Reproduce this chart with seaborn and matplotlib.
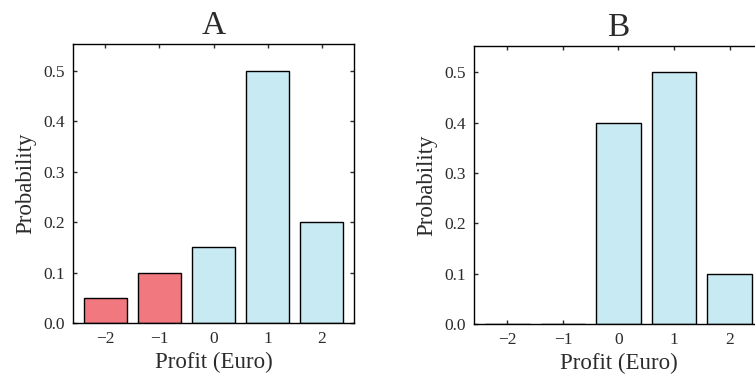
import matplotlib
matplotlib.use("Agg")
import matplotlib.pyplot as plt
import seaborn as sns
import pandas as pd

# Profit outcomes and their probabilities for the two lotteries
profit = [-2, -1, 0, 1, 2]
prob_a = [0.05, 0.10, 0.15, 0.50, 0.20]
prob_b = [0.00, 0.00, 0.40, 0.50, 0.10]
yticks = [0.0, 0.1, 0.2, 0.3, 0.4, 0.5]

loss_color = "#F27880"
gain_color = "#C8EAF2"
text_color = "#2b2b2b"

sns.set_theme(style="white")
plt.rcParams["font.family"] = ["Liberation Serif", "DejaVu Serif"]
plt.rcParams["text.color"] = text_color
plt.rcParams["axes.labelcolor"] = text_color
plt.rcParams["xtick.color"] = text_color
plt.rcParams["ytick.color"] = text_color

fig = plt.figure(figsize=(7.55, 3.79), dpi=100)
ax_a = fig.add_axes([0.0967, 0.1478, 0.3722, 0.7361])
ax_b = fig.add_axes([0.6278, 0.1451, 0.3828, 0.7343])


def draw_panel(ax, probs, title):
    df = pd.DataFrame({
        "profit": profit,
        "prob": probs,
        "kind": ["loss" if p < 0 else "gain" for p in profit],
    })
    sns.barplot(data=df, x="profit", y="prob", hue="kind",
                palette={"loss": loss_color, "gain": gain_color},
                native_scale=True, dodge=False, width=0.8,
                edgecolor="black", linewidth=1.0, saturation=1,
                legend=False, ax=ax)
    ax.set_xlim(-2.6, 2.6)
    ax.set_ylim(0, 0.553)
    ax.set_xticks(profit)
    ax.set_xticklabels([str(p).replace("-", "\u2212") for p in profit])
    ax.set_yticks(yticks)
    ax.set_yticklabels([f"{v:.1f}" for v in yticks])
    ax.tick_params(direction="in", length=3, width=1, top=True, right=True,
                   bottom=True, left=True, labelsize=12.5, pad=6)
    for s in ax.spines.values():
        s.set_visible(True)
        s.set_color("black")
        s.set_linewidth(1.0)
    ax.set_xlabel("Profit (Euro)", fontsize=16.5, labelpad=3)
    ax.set_ylabel("Probability", fontsize=16.5, labelpad=5)
    ax.set_title(title, fontsize=24, pad=7)


draw_panel(ax_a, prob_a, "A")
draw_panel(ax_b, prob_b, "B")

fig.savefig("out.png", dpi=100)
